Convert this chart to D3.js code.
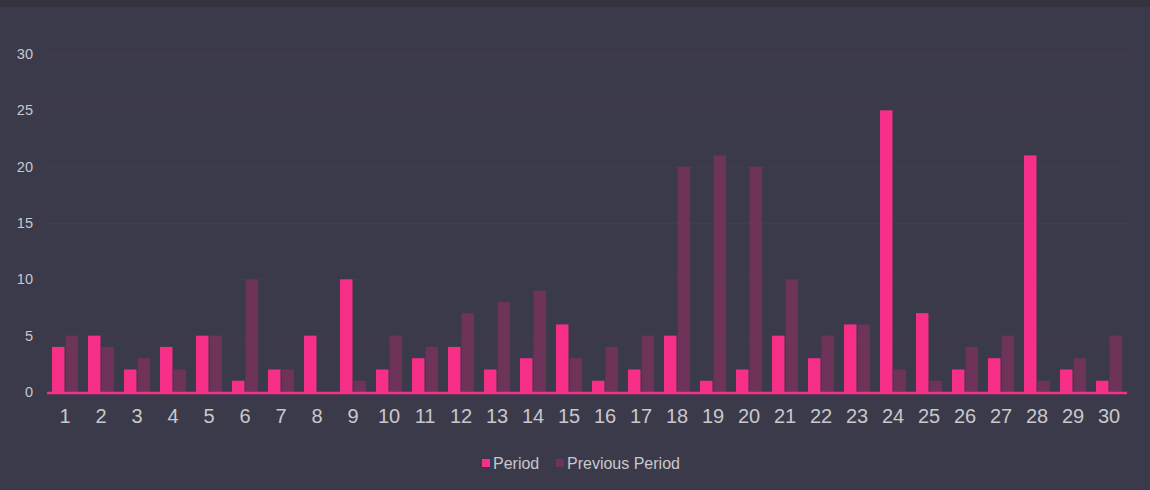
<!DOCTYPE html>
<html><head><meta charset="utf-8">
<script src="https://cdn.jsdelivr.net/npm/d3@7"></script>
<style>
html,body{margin:0;padding:0;background:#3b3a4a;}
svg{display:block;font-family:"Liberation Sans",Arial,sans-serif;}
</style></head>
<body><svg id="c" width="1150" height="490"></svg>
<script>
const categories = d3.range(1,31).map(String);
const period =   [4,5,2,4,5,1,2,5,10,2,3,4,2,3,6,1,2,5,1,2,5,3,6,25,7,2,3,21,2,1];
const previous = [5,4,3,2,5,10,2,0,1,5,4,7,8,9,3,4,5,20,21,20,10,5,6,2,1,4,5,1,3,5];
const yTicks = [0,5,10,15,20,25,30];
const seriesNames = ["Period","Previous Period"];
const colors = ["#f72f89","#6e3358"];

const svg = d3.select("#c");
svg.append("rect").attr("width",1150).attr("height",490).attr("fill","#3b3a4a");
svg.append("rect").attr("width",1150).attr("height",7).attr("fill","#34333f");

const x = d3.scaleBand().domain(categories).range([47,1127]).paddingInner(0.28).paddingOuter(0.14);
const x1 = d3.scaleBand().domain(seriesNames).range([0,x.bandwidth()]).paddingInner(0.08);
const y = d3.scaleLinear().domain([0,30]).range([392,54]);

// gridlines
svg.append("g").selectAll("line").data(yTicks.filter(d=>d>0)).join("line")
  .attr("x1",47).attr("x2",1127).attr("y1",d=>y(d)+0.5).attr("y2",d=>y(d)+0.5)
  .attr("stroke","#483a52").attr("stroke-width",1);

// y axis labels
const yAxis = d3.axisLeft(y).tickValues(yTicks).tickSize(0).tickPadding(0);
const gy = svg.append("g").attr("transform","translate(33,0)").call(yAxis);
gy.select(".domain").remove();
gy.selectAll("text").attr("fill","#c8c8cc").attr("font-size","14.5px").attr("font-family","Liberation Sans, Arial, sans-serif");

// bars
const data = categories.map((c,i)=>({c, vals:[period[i],previous[i]]}));
const groups = svg.append("g").selectAll("g").data(data).join("g")
  .attr("transform",d=>`translate(${x(d.c)},0)`);
groups.selectAll("rect").data(d=>d.vals.map((v,j)=>({v,name:seriesNames[j],j}))).join("rect")
  .attr("x",d=>x1(d.name)).attr("width",x1.bandwidth())
  .attr("y",d=>y(d.v)).attr("height",d=>y(0)-y(d.v))
  .attr("fill",d=>colors[d.j]);

// zero line
svg.append("line").attr("x1",47).attr("x2",1127).attr("y1",y(0)+1).attr("y2",y(0)+1)
  .attr("stroke","#f72f89").attr("stroke-width",2.5);

// x axis labels
const xAxis = d3.axisBottom(x).tickSize(0).tickPadding(0);
const gx = svg.append("g").attr("transform","translate(0,409)").call(xAxis);
gx.select(".domain").remove();
gx.selectAll("text").attr("fill","#c8c8cc").attr("font-size","20px").attr("font-family","Liberation Sans, Arial, sans-serif");

// legend
const legend = svg.append("g");
const lx = [482,556];
seriesNames.forEach((n,i)=>{
  legend.append("rect").attr("x",lx[i]).attr("y",459).attr("width",8).attr("height",8).attr("fill",colors[i]);
  legend.append("text").attr("x",lx[i]+11).attr("y",468.5).text(n)
    .attr("fill","#c8c8cc").attr("font-size","16px");
});
</script></body></html>
